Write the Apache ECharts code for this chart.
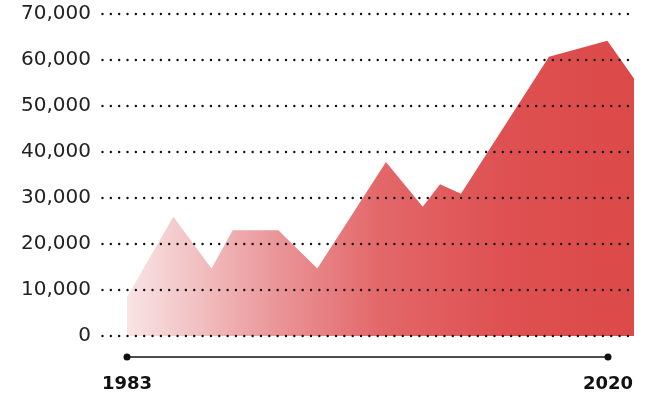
<!DOCTYPE html>
<html>
<head>
<meta charset="utf-8">
<script src="https://cdn.jsdelivr.net/npm/echarts@6/dist/echarts.min.js"></script>
<style>
  html, body { margin: 0; padding: 0; background: #ffffff; }
  #chart { width: 648px; height: 396px; }
</style>
</head>
<body>
<div id="chart"></div>
<script>
// Data
const years = [1983, 1986.56, 1989.5, 1991.13, 1994.64, 1997.64, 2002.92, 2005.75, 2007.08, 2008.69, 2015.46, 2019.95, 2022];
const values = [8500, 25900, 14700, 23000, 23000, 14700, 37800, 28100, 33000, 30900, 60700, 64200, 56000];
const yTicks = [0, 10000, 20000, 30000, 40000, 50000, 60000, 70000];
const timelineYears = [1983, 2020];

const areaData = years.map((y, i) => [y, values[i]]);
const timelineData = timelineYears.map(y => [y, 0]);

const chart = echarts.init(document.getElementById('chart'), null, { renderer: 'canvas' });

chart.setOption({
  animation: false,
  backgroundColor: '#ffffff',
  grid: [
    { left: 101, width: 533, top: 14, height: 322 },
    { left: 101, width: 533, top: 352, height: 10 }
  ],
  xAxis: [
    {
      gridIndex: 0, type: 'value', min: 1981, max: 2022,
      axisLine: { show: false }, axisTick: { show: false },
      axisLabel: { show: false }, splitLine: { show: false }
    },
    {
      gridIndex: 1, type: 'value', min: 1981, max: 2022,
      axisLine: { show: false }, axisTick: { show: false },
      splitLine: { show: false },
      axisLabel: {
        show: true,
        customValues: timelineYears,
        formatter: v => String(v),
        fontFamily: 'DejaVu Sans', fontWeight: 'bold', fontSize: 18,
        color: '#111111', margin: 13
      }
    }
  ],
  yAxis: [
    {
      gridIndex: 0, type: 'value', min: yTicks[0], max: yTicks[yTicks.length - 1], interval: 10000,
      z: 5,
      axisLine: { show: false }, axisTick: { show: false },
      axisLabel: {
        fontFamily: 'DejaVu Sans', fontSize: 20, color: '#222222', margin: 10,
        formatter: v => v.toLocaleString('en-US')
      },
      splitLine: {
        show: true,
        lineStyle: { color: '#111111', width: 2.4, type: [0.01, 8.33], cap: 'round', dashOffset: -1.5 }
      }
    },
    {
      gridIndex: 1, type: 'value', min: -1, max: 1,
      axisLine: { show: false }, axisTick: { show: false },
      axisLabel: { show: false }, splitLine: { show: false }
    }
  ],
  series: [
    {
      type: 'line',
      xAxisIndex: 0, yAxisIndex: 0,
      data: areaData,
      symbol: 'none',
      z: 1,
      lineStyle: { width: 0 },
      areaStyle: {
        opacity: 1,
        color: new echarts.graphic.LinearGradient(0, 0, 1, 0, [
          { offset: 0, color: '#f9e4e5' },
          { offset: 0.15, color: '#f1bdbf' },
          { offset: 0.3, color: '#ea9497' },
          { offset: 0.5, color: '#e36769' },
          { offset: 0.75, color: '#de5051' },
          { offset: 1, color: '#dc4949' }
        ])
      }
    },
    {
      type: 'line',
      xAxisIndex: 1, yAxisIndex: 1,
      data: timelineData,
      symbol: 'circle', symbolSize: 7,
      itemStyle: { color: '#111111' },
      lineStyle: { color: '#111111', width: 1.6 }
    }
  ]
});
</script>
</body>
</html>
